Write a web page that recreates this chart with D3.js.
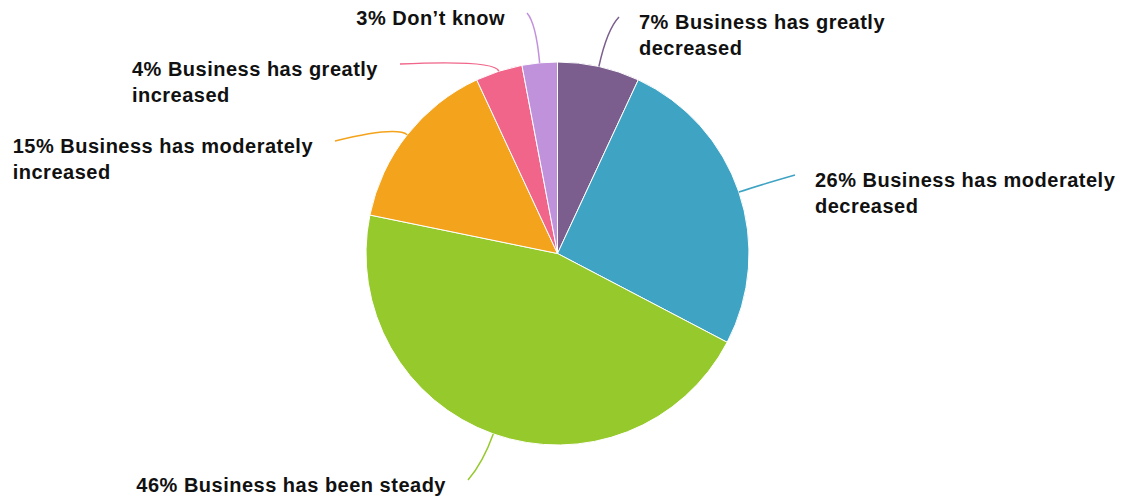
<!DOCTYPE html>
<html>
<head>
<meta charset="utf-8">
<script src="https://cdn.jsdelivr.net/npm/d3@7"></script>
<style>
  body { margin: 0; background: #fff; }
  svg text { font-family: "Liberation Sans", Arial, sans-serif; font-weight: bold; font-size: 20px; letter-spacing: 0.5px; fill: #111; }
</style>
</head>
<body>
<svg width="1126" height="499"></svg>
<script>
// data
const categories = ["Business has greatly decreased", "Business has moderately decreased",
  "Business has been steady", "Business has moderately increased",
  "Business has greatly increased", "Don’t know"];
const shares = [7, 26, 46, 15, 4, 3];
const colors = ["#7b5e8e", "#3fa3c4", "#96c92b", "#f4a41c", "#f06589", "#c192dc"];

// label layout (where each leader line ends, and how far it runs out before bending)
const labelEnds = [[619, 17], [795, 175], [468, 480], [335, 141], [400, 64], [527, 13]];
const leaderBend = [38, 20, 30, 14, 12, 40];

const cx = 557.5, cy = 253.5, r = 191.5;
const svg = d3.select("svg");
const g = svg.append("g").attr("transform", `translate(${cx},${cy})`);

const pie = d3.pie().sort(null).value(d => d);
const arcs = pie(shares);
const arc = d3.arc().innerRadius(0).outerRadius(r);

g.selectAll("path.slice")
  .data(arcs)
  .enter().append("path")
  .attr("class", "slice")
  .attr("d", arc)
  .attr("fill", (d, i) => colors[i])
  .attr("stroke", "#fff")
  .attr("stroke-width", 1);

// leader lines
function polar(a, rad) { return [Math.sin(a) * rad, -Math.cos(a) * rad]; }
arcs.forEach((d, i) => {
  const a = (d.startAngle + d.endAngle) / 2;
  const p0 = polar(a, r);
  const p1 = polar(a, r + leaderBend[i]);
  const end = [labelEnds[i][0] - cx, labelEnds[i][1] - cy];
  const p = d3.path();
  p.moveTo(p0[0], p0[1]);
  p.quadraticCurveTo(p1[0], p1[1], end[0], end[1]);
  g.append("path")
    .attr("d", p.toString())
    .attr("fill", "none")
    .attr("stroke", colors[i])
    .attr("stroke-width", 1.5);
});

// labels, wrapped at a max width, left aligned blocks
const maxW = 320, lineH = 26, gap = 22;
arcs.forEach((d, i) => {
  const [ex, ey] = labelEnds[i];
  const text = svg.append("text").attr("y", ey + 12);
  const words = (shares[i] + "% " + categories[i]).split(" ");
  let lines = [], cur = [];
  const probe = svg.append("text").attr("x", -999).attr("y", -999);
  words.forEach(w => {
    const test = cur.concat([w]).join(" ");
    probe.text(test);
    if (probe.node().getComputedTextLength() > maxW && cur.length) {
      lines.push(cur.join(" "));
      cur = [w];
    } else cur.push(w);
  });
  lines.push(cur.join(" "));
  probe.remove();
  const tspans = text.selectAll("tspan").data(lines).enter().append("tspan")
    .attr("dy", (l, j) => j === 0 ? 0 : lineH)
    .text(l => l);
  const widths = tspans.nodes().map(n => n.getComputedTextLength());
  const blockW = d3.max(widths);
  const x = ex > cx ? ex + gap - 2 : ex - gap - blockW;
  tspans.attr("x", x);
});
</script>
</body>
</html>
